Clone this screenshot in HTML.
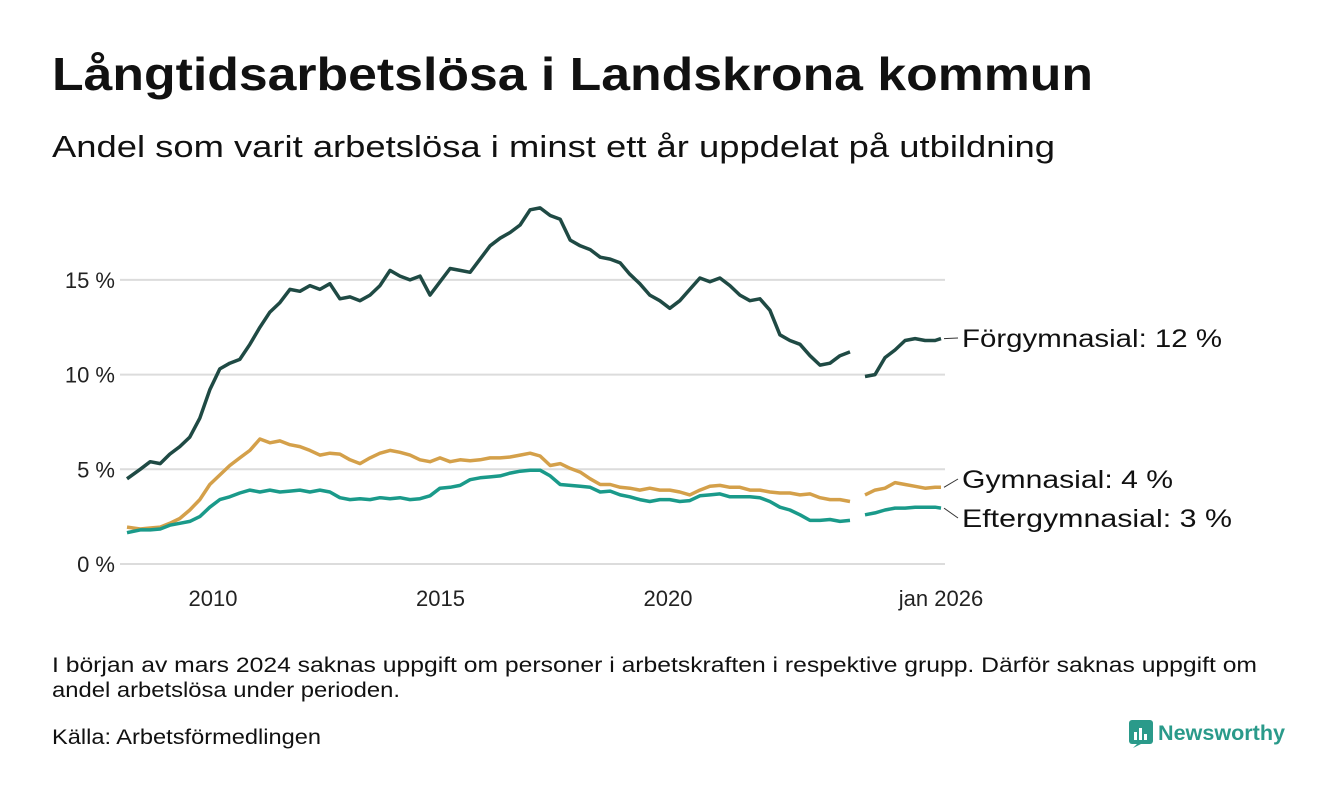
<!DOCTYPE html>
<html><head><meta charset="utf-8">
<style>
body{margin:0;background:#fff;width:1340px;height:780px;overflow:hidden;font-family:"Liberation Sans",sans-serif;color:#111}
</style></head>
<body>
<svg width="1340" height="780" xmlns="http://www.w3.org/2000/svg" font-family="Liberation Sans, sans-serif">
<text x="52" y="90" font-size="46" font-weight="bold" fill="#111" textLength="1041" lengthAdjust="spacingAndGlyphs">Långtidsarbetslösa i Landskrona kommun</text>
<text x="52" y="157" font-size="31" fill="#111" textLength="1003" lengthAdjust="spacingAndGlyphs">Andel som varit arbetslösa i minst ett år uppdelat på utbildning</text>
<g id="grid"></g>
<g id="lines"></g>
<g id="labels"></g>
<text x="52" y="672" font-size="21" fill="#111" textLength="1205" lengthAdjust="spacingAndGlyphs">I början av mars 2024 saknas uppgift om personer i arbetskraften i respektive grupp. Därför saknas uppgift om</text>
<text x="52" y="697" font-size="21" fill="#111" textLength="348" lengthAdjust="spacingAndGlyphs">andel arbetslösa under perioden.</text>
<text x="52" y="744" font-size="21" fill="#111" textLength="269" lengthAdjust="spacingAndGlyphs">Källa: Arbetsförmedlingen</text>
<g>
<rect x="1129" y="720" width="24" height="24" rx="3" fill="#2a9a8a"/>
<path d="M1133 748 L1137 744 L1141 744 Z" fill="#2a9a8a"/>
<rect x="1134" y="732" width="3" height="8" fill="#fff"/><rect x="1139" y="728" width="3" height="12" fill="#fff"/><rect x="1144" y="734" width="3" height="6" fill="#fff"/>
<text x="1158" y="740" font-size="21" font-weight="bold" fill="#2a9a8a" textLength="127" lengthAdjust="spacingAndGlyphs">Newsworthy</text>
</g>
</svg>
<script>
const yTicks=[0,5,10,15];
const yTickLabels=["0 %","5 %","10 %","15 %"];
const xTicks=[2010,2015,2020,2026];
const xTickLabels=["2010","2015","2020","jan 2026"];
const dates1=[2008.11,2008.40,2008.62,2008.84,2009.05,2009.27,2009.49,2009.71,2009.93,2010.15,2010.37,2010.59,2010.81,2011.03,2011.25,2011.47,2011.69,2011.91,2012.13,2012.35,2012.57,2012.79,2013.01,2013.23,2013.45,2013.67,2013.89,2014.11,2014.33,2014.55,2014.77,2014.99,2015.21,2015.43,2015.65,2015.87,2016.09,2016.31,2016.53,2016.75,2016.97,2017.19,2017.41,2017.63,2017.85,2018.07,2018.29,2018.51,2018.73,2018.95,2019.16,2019.38,2019.60,2019.82,2020.04,2020.26,2020.48,2020.70,2020.92,2021.14,2021.36,2021.58,2021.80,2022.02,2022.24,2022.46,2022.68,2022.90,2023.12,2023.34,2023.56,2023.78,2024.00];
const dates2=[2024.33,2024.55,2024.77,2024.99,2025.21,2025.43,2025.65,2025.87,2026.0];
const forg1=[4.5,5.0,5.4,5.3,5.8,6.2,6.7,7.7,9.2,10.3,10.6,10.8,11.6,12.5,13.3,13.8,14.5,14.4,14.7,14.5,14.8,14.0,14.1,13.9,14.2,14.7,15.5,15.2,15.0,15.2,14.2,14.9,15.6,15.5,15.4,16.1,16.8,17.2,17.5,17.9,18.7,18.8,18.4,18.2,17.1,16.8,16.6,16.2,16.1,15.9,15.3,14.8,14.2,13.9,13.5,13.9,14.5,15.1,14.9,15.1,14.7,14.2,13.9,14.0,13.4,12.1,11.8,11.6,11.0,10.5,10.6,11.0,11.2];
const forg2=[9.9,10.0,10.9,11.3,11.8,11.9,11.8,11.8,11.9];
const gym1=[1.95,1.85,1.9,1.95,2.15,2.4,2.85,3.4,4.2,4.7,5.2,5.6,6.0,6.6,6.4,6.5,6.3,6.2,6.0,5.75,5.85,5.8,5.5,5.3,5.6,5.85,6.0,5.9,5.75,5.5,5.4,5.6,5.4,5.5,5.45,5.5,5.6,5.6,5.65,5.75,5.85,5.7,5.2,5.3,5.05,4.85,4.5,4.2,4.2,4.05,4.0,3.9,4.0,3.9,3.9,3.8,3.65,3.9,4.1,4.15,4.05,4.05,3.9,3.9,3.8,3.75,3.75,3.65,3.7,3.5,3.4,3.4,3.3];
const gym2=[3.65,3.9,4.0,4.3,4.2,4.1,4.0,4.05,4.05];
const eft1=[1.65,1.8,1.8,1.85,2.05,2.15,2.25,2.5,3.0,3.4,3.55,3.75,3.9,3.8,3.9,3.8,3.85,3.9,3.8,3.9,3.8,3.5,3.4,3.45,3.4,3.5,3.45,3.5,3.4,3.45,3.6,4.0,4.05,4.15,4.45,4.55,4.6,4.65,4.8,4.9,4.95,4.95,4.65,4.2,4.15,4.1,4.05,3.8,3.85,3.65,3.55,3.4,3.3,3.4,3.4,3.3,3.35,3.6,3.65,3.7,3.55,3.55,3.55,3.5,3.3,3.0,2.85,2.6,2.3,2.3,2.35,2.25,2.3];
const eft2=[2.6,2.7,2.85,2.95,2.95,3.0,3.0,3.0,2.95];
const seriesNames=["Förgymnasial: 12 %","Gymnasial:  4 %","Eftergymnasial:  3 %"];
const labelWidths=[260,211,270];

const NS="http://www.w3.org/2000/svg";
const xS=d=>213+(d-2010)*45.5;
const yS=v=>564-v*18.94;
function mk(tag,attrs,parent){const e=document.createElementNS(NS,tag);for(const k in attrs)e.setAttribute(k,attrs[k]);parent.appendChild(e);return e;}
const grid=document.getElementById('grid'),lines=document.getElementById('lines'),labels=document.getElementById('labels');
yTicks.forEach((t,i)=>{
  const l=mk('line',{x1:120,x2:945,y1:yS(t),y2:yS(t),stroke:'#dcdcdc','stroke-width':2},grid);
  
  
  const tx=mk('text',{x:115,y:yS(t)+8,'font-size':22,'text-anchor':'end',fill:'#222'},grid);
  tx.textContent=yTickLabels[i];
  
  
});
xTicks.forEach((t,i)=>{
  const tx=mk('text',{x:xS(t),y:606,'font-size':22,'text-anchor':'middle',fill:'#222'},grid);
  tx.textContent=xTickLabels[i];
  
  
});
function path(ds,vs){return vs.map((v,i)=>(i?'L':'M')+xS(ds[i]).toFixed(1)+' '+yS(v).toFixed(1)).join(' ');}
const defs=[[forg1,forg2,'#1f4a44','forgymnasial-line'],[gym1,gym2,'#d4a04a','gymnasial-line'],[eft1,eft2,'#1a9a8a','eftergymnasial-line']];
defs.forEach(([a,b,c,n])=>{
  const p1=mk('path',{d:path(dates1,a),fill:'none',stroke:c,'stroke-width':3.5,'stroke-linejoin':'round'},lines);
  
  
  const p2=mk('path',{d:path(dates2,b),fill:'none',stroke:c,'stroke-width':3.5,'stroke-linejoin':'round'},lines);
  
  
});
const lastVals=[forg2[forg2.length-1],gym2[gym2.length-1],eft2[eft2.length-1]];
const labelY=[338,479,518];
const xEnd=xS(dates2[dates2.length-1]);
lastVals.forEach((v,i)=>{
  const cl=mk('line',{x1:xEnd+3,y1:yS(v),x2:958,y2:labelY[i],stroke:'#333','stroke-width':1},labels);
  
  
  const t=mk('text',{x:962,y:labelY[i]+9,'font-size':25,fill:'#111',textLength:labelWidths[i],lengthAdjust:'spacingAndGlyphs'},labels);
  t.textContent=seriesNames[i];
  
  
});
</script>
</body></html>
